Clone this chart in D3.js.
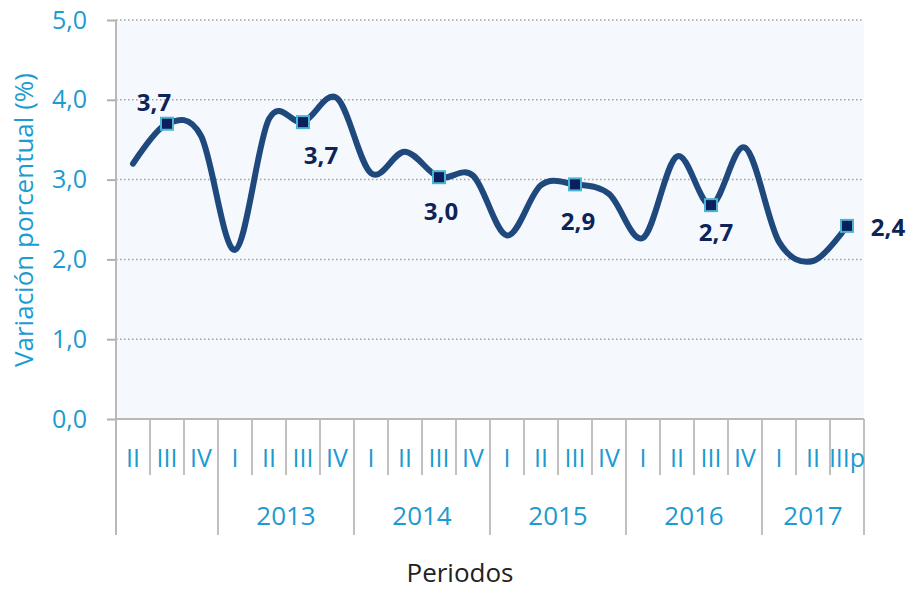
<!DOCTYPE html>
<html>
<head>
<meta charset="utf-8">
<script src="https://cdn.jsdelivr.net/npm/d3@7"></script>
<style>
body{margin:0;background:#fff;}
text{font-family:"Open Sans",sans-serif;}
</style>
</head>
<body>
<div id="viz"></div>
<script>
var width = 910;
var height = 590;

// data
var quarters = ["II","III","IV","I","II","III","IV","I","II","III","IV","I","II","III","IV","I","II","III","IV","I","II","IIIp"];
var values = [3.2,3.7,3.55,2.12,3.76,3.72,4.02,3.08,3.35,3.03,3.05,2.3,2.93,2.94,2.82,2.27,3.29,2.68,3.4,2.22,1.98,2.42];
var years = ["","2013","2014","2015","2016","2017"];
var yearCounts = [3,4,4,4,4,3];
var labelled = [1,5,9,13,17,21];
var yTicks = [0,1,2,3,4,5];

// label placement (layout only)
var labelDx = [-13,18,2,3,5,41];
var labelDy = [-13,42,43,46,36,10];

var mLeft = 116, mRight = 864, mTop = 20, mBottom = 419;
var cyan = "#1a9bd1";

var canvas = d3.select('#viz')
	.append('svg')
	.attr("width",width)
	.attr("height",height);

var x = d3.scaleBand()
	.domain(d3.range(quarters.length))
	.range([mLeft,mRight])
	.padding(0);

var y = d3.scaleLinear()
	.domain([0,5])
	.range([mBottom,mTop]);

var fmt = function(v){ return d3.format(".1f")(v).replace(".",","); };

// plot background
canvas.append("rect")
	.attr("x",mLeft).attr("y",mTop)
	.attr("width",mRight-mLeft).attr("height",mBottom-mTop)
	.attr("fill","#f5f9fd");

// grid lines
canvas.append("g").selectAll("line")
	.data(yTicks.slice(1))
	.enter().append("line")
	.attr("x1",mLeft).attr("x2",mRight)
	.attr("y1",function(d){return y(d);})
	.attr("y2",function(d){return y(d);})
	.attr("stroke","#a0a0a0")
	.attr("stroke-width",1.5)
	.attr("stroke-dasharray","1.5,2.5");

// y axis
var yAxis = d3.axisLeft(y)
	.tickValues(yTicks)
	.tickSize(9)
	.tickPadding(20)
	.tickFormat(fmt);

var gy = canvas.append("g")
	.attr("transform","translate("+mLeft+",0)")
	.call(yAxis);
gy.select(".domain").remove();
gy.selectAll(".tick line").attr("stroke","#b0b0b0").attr("stroke-width",2);
gy.selectAll(".tick text")
	.attr("fill",cyan)
	.attr("font-size",25)
	.attr("font-family","Open Sans");

// axis lines
canvas.append("line")
	.attr("x1",mLeft).attr("x2",mLeft)
	.attr("y1",mTop).attr("y2",535)
	.attr("stroke","#b8b8b8").attr("stroke-width",2);
canvas.append("line")
	.attr("x1",mLeft).attr("x2",mRight)
	.attr("y1",mBottom).attr("y2",mBottom)
	.attr("stroke","#b8b8b8").attr("stroke-width",2);

// category separators
var bounds = [0];
yearCounts.forEach(function(c,i){ bounds.push(bounds[i]+c); });

canvas.append("g").selectAll("line")
	.data(d3.range(1,quarters.length+1))
	.enter().append("line")
	.attr("x1",function(i){return mLeft + i*x.step();})
	.attr("x2",function(i){return mLeft + i*x.step();})
	.attr("y1",mBottom)
	.attr("y2",function(i){return bounds.indexOf(i)>=0 ? 535 : 475;})
	.attr("stroke","#c0c0c0")
	.attr("stroke-width",2);

// quarter labels
canvas.append("g").selectAll("text")
	.data(quarters)
	.enter().append("text")
	.attr("x",function(d,i){return x(i)+x.bandwidth()/2;})
	.attr("y",467)
	.attr("text-anchor","middle")
	.attr("font-size",25)
	.attr("fill",cyan)
	.text(function(d){return d;});

// year labels
canvas.append("g").selectAll("text")
	.data(years)
	.enter().append("text")
	.attr("x",function(d,i){return mLeft + (bounds[i]+bounds[i+1])/2*x.step();})
	.attr("y",525)
	.attr("text-anchor","middle")
	.attr("font-size",26)
	.attr("fill",cyan)
	.text(function(d){return d;});

// axis titles
canvas.append("text")
	.attr("transform","translate(33,220) rotate(-90)")
	.attr("text-anchor","middle")
	.attr("font-size",26)
	.attr("fill",cyan)
	.text("Variación porcentual (%)");

canvas.append("text")
	.attr("x",460)
	.attr("y",582)
	.attr("text-anchor","middle")
	.attr("font-size",26)
	.attr("fill","#222")
	.text("Periodos");

// line
var line = d3.line()
	.x(function(d,i){return x(i)+x.bandwidth()/2;})
	.y(function(d){return y(d);})
	.curve(d3.curveCardinal.tension(0));

canvas.append("path")
	.datum(values)
	.attr("d",line)
	.attr("fill","none")
	.attr("stroke","#1f497d")
	.attr("stroke-width",6)
	.attr("stroke-linecap","round")
	.attr("stroke-linejoin","round");

// markers
canvas.append("g").selectAll("rect")
	.data(labelled)
	.enter().append("rect")
	.attr("x",function(i){return x(i)+x.bandwidth()/2-6;})
	.attr("y",function(i){return y(values[i])-6;})
	.attr("width",12).attr("height",12)
	.attr("fill","#0a1f5c")
	.attr("stroke","#4bb4d4")
	.attr("stroke-width",2);

// data labels
canvas.append("g").selectAll("text")
	.data(labelled)
	.enter().append("text")
	.attr("x",function(i,k){return x(i)+x.bandwidth()/2+labelDx[k];})
	.attr("y",function(i,k){return y(values[i])+labelDy[k];})
	.attr("text-anchor","middle")
	.attr("font-size",24)
	.attr("font-weight","bold")
	.attr("fill","#0d2459")
	.text(function(i){return fmt(values[i]);});
</script>
</body>
</html>
